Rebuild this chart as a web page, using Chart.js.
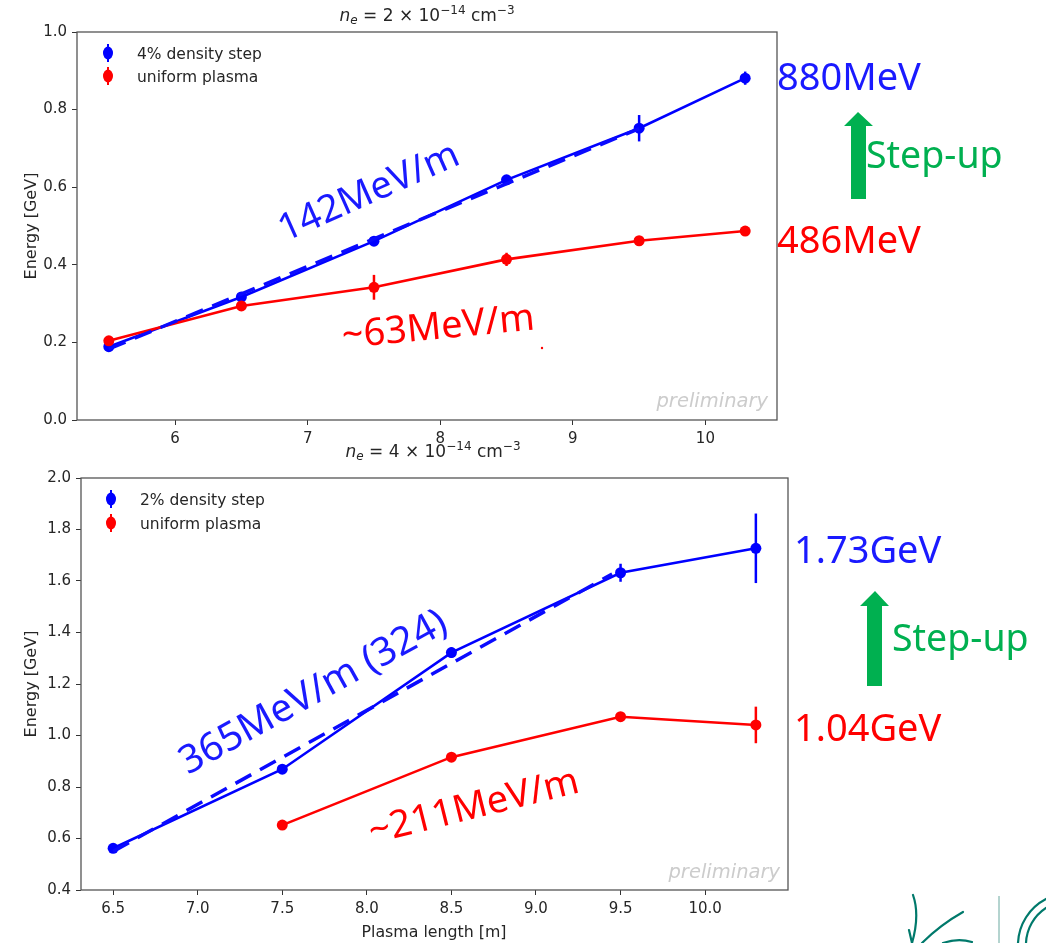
<!DOCTYPE html>
<html><head><meta charset="utf-8">
<script src="https://cdn.jsdelivr.net/npm/chart.js@4.4.1/dist/chart.umd.min.js"></script>
<style>
html,body{margin:0;padding:0;background:#fff;}
body{width:1046px;height:943px;position:relative;overflow:hidden;}
canvas{position:absolute;left:0;}
#c1{top:0;}
#c2{top:450px;}
#ov{position:absolute;left:0;top:0;pointer-events:none;}
</style></head><body>
<canvas id="c1" width="800" height="450"></canvas>
<canvas id="c2" width="800" height="493"></canvas>
<svg id="ov" width="1046" height="943" xmlns="http://www.w3.org/2000/svg">
  <!-- titles -->
  <text x="427" y="21" text-anchor="middle" font-family="DejaVu Sans" font-size="17" fill="#262626"><tspan font-style="italic">n</tspan><tspan font-style="italic" font-size="12" dy="3">e</tspan><tspan dy="-3"> = 2 × 10</tspan><tspan font-size="12" dy="-7">−14</tspan><tspan dy="7"> cm</tspan><tspan font-size="12" dy="-7">−3</tspan></text>
  <text x="433" y="457" text-anchor="middle" font-family="DejaVu Sans" font-size="17" fill="#262626"><tspan font-style="italic">n</tspan><tspan font-style="italic" font-size="12" dy="3">e</tspan><tspan dy="-3"> = 4 × 10</tspan><tspan font-size="12" dy="-7">−14</tspan><tspan dy="7"> cm</tspan><tspan font-size="12" dy="-7">−3</tspan></text>
  <!-- axis labels -->
  <text transform="translate(36,226) rotate(-90)" text-anchor="middle" font-family="DejaVu Sans" font-size="16" fill="#262626">Energy [GeV]</text>
  <text transform="translate(36,684) rotate(-90)" text-anchor="middle" font-family="DejaVu Sans" font-size="16" fill="#262626">Energy [GeV]</text>
  <text x="434" y="937" text-anchor="middle" font-family="DejaVu Sans" font-size="15.8" fill="#262626">Plasma length [m]</text>
  <!-- preliminary -->
  <text x="768" y="407" text-anchor="end" font-family="DejaVu Sans" font-style="italic" font-size="19.5" fill="#cccccc">preliminary</text>
  <text x="780" y="878" text-anchor="end" font-family="DejaVu Sans" font-style="italic" font-size="19.5" fill="#cccccc">preliminary</text>
  <!-- in-plot annotations -->
  <text transform="translate(285,242) rotate(-24)" font-family="Noto Sans" font-size="38" fill="#1a1aff">142MeV/m</text>
  <text transform="translate(343,348) rotate(-5.5)" font-family="Noto Sans" font-size="38" fill="#ff0000">~63MeV/m</text>
  <circle cx="542" cy="348" r="1.2" fill="#ff0000"/>
  <text transform="translate(188,775) rotate(-29)" font-family="Noto Sans" font-size="39" fill="#1a1aff">365MeV/m (324)</text>
  <text transform="translate(372,844) rotate(-14)" font-family="Noto Sans" font-size="38" fill="#ff0000">~211MeV/m</text>
  <!-- right side annotations -->
  <text x="777" y="90" font-family="Noto Sans" font-size="38" fill="#1a1aff">880MeV</text>
  <text x="777" y="253" font-family="Noto Sans" font-size="38" fill="#ff0000">486MeV</text>
  <polygon points="851,199 866,199 866,126 873,126 858,112 844,126 851,126" fill="#00b050"/>
  <text x="866" y="168" font-family="Noto Sans" font-size="37.5" fill="#00b050">Step-up</text>
  <text x="794" y="563" font-family="Noto Sans" font-size="38" fill="#1a1aff">1.73GeV</text>
  <text x="794" y="741" font-family="Noto Sans" font-size="38" fill="#ff0000">1.04GeV</text>
  <polygon points="867,686 882,686 882,606 889,606 875,591 860,606 867,606" fill="#00b050"/>
  <text x="892" y="651" font-family="Noto Sans" font-size="37.5" fill="#00b050">Step-up</text>
  <!-- logo fragment -->
  <g fill="none" stroke="#00796b" stroke-width="2.2" stroke-linecap="round">
    <path d="M913,895 Q920,915 912,943"/>
    <path d="M909,930 L912,943"/>
    <path d="M963,912 Q940,925 922,943"/>
    <path d="M943,943 Q958,938 972,942"/>
    <path d="M1018,943 A52,52 0 0 1 1046,899"/>
    <path d="M1026,943 A44,44 0 0 1 1046,908"/>
  </g>
  <line x1="999" y1="896" x2="999" y2="943" stroke="#6aa9a0" stroke-width="1"/>
</svg>
<script>
// ---------- data ----------
const topLengths = [5.5, 6.5, 7.5, 8.5, 9.5, 10.3];
const topStepEnergy = [0.189, 0.317, 0.461, 0.619, 0.752, 0.881];
const topStepErr = [0.008, 0.01, 0.008, 0.01, 0.034, 0.017];
const topUniformEnergy = [0.204, 0.294, 0.342, 0.414, 0.462, 0.487];
const topUniformErr = [0.008, 0.008, 0.032, 0.017, 0.008, 0.008];
const topFitX = [5.5, 9.5];
const topFitY = [0.183, 0.751];
const topXTicks = [6, 7, 8, 9, 10];
const topYTicks = [0.0, 0.2, 0.4, 0.6, 0.8, 1.0];

const botStepLengths = [6.5, 7.5, 8.5, 9.5, 10.3];
const botStepEnergy = [0.562, 0.869, 1.322, 1.632, 1.727];
const botStepErr = [0.012, 0.012, 0.02, 0.035, 0.135];
const botUniformLengths = [7.5, 8.5, 9.5, 10.3];
const botUniformEnergy = [0.652, 0.916, 1.073, 1.041];
const botUniformErr = [0.01, 0.012, 0.018, 0.071];
const botFitX = [6.5, 9.45];
const botFitY = [0.55, 1.627];
const botXTicks = [6.5, 7.0, 7.5, 8.0, 8.5, 9.0, 9.5, 10.0];
const botYTicks = [0.4, 0.6, 0.8, 1.0, 1.2, 1.4, 1.6, 1.8, 2.0];

const BLUE = '#0000ff', RED = '#ff0000';
function pts(xs, ys){ return xs.map((x,i)=>({x:x, y:ys[i]})); }

const extras = {
  id: 'extras',
  beforeDatasetsDraw(chart){
    const ctx = chart.ctx, xs = chart.scales.x, ys = chart.scales.y;
    chart.data.datasets.forEach(ds=>{
      if(!ds.errors) return;
      ctx.save();
      ctx.strokeStyle = ds.borderColor; ctx.lineWidth = 2.5;
      ds.data.forEach((p,i)=>{
        const e = ds.errors[i];
        const px = xs.getPixelForValue(p.x);
        ctx.beginPath();
        ctx.moveTo(px, ys.getPixelForValue(p.y - e));
        ctx.lineTo(px, ys.getPixelForValue(p.y + e));
        ctx.stroke();
      });
      ctx.restore();
    });
  },
  afterDraw(chart, args, opts){
    const ctx = chart.ctx, a = chart.chartArea;
    ctx.save();
    ctx.strokeStyle = '#555'; ctx.lineWidth = 1.3;
    ctx.strokeRect(a.left, a.top, a.right - a.left, a.bottom - a.top);
    // legend
    ctx.font = '15.5px "DejaVu Sans"';
    ctx.textBaseline = 'alphabetic';
    chart.data.datasets.forEach(ds=>{
      if(ds.legendRow === undefined) return;
      const mx = a.left + opts.mx, my = a.top + opts.my + ds.legendRow * opts.dy;
      ctx.strokeStyle = ds.borderColor; ctx.fillStyle = ds.borderColor; ctx.lineWidth = 2;
      ctx.beginPath(); ctx.moveTo(mx, my - 9); ctx.lineTo(mx, my + 9); ctx.stroke();
      ctx.beginPath(); ctx.ellipse(mx, my, 5, 6.5, 0, 0, Math.PI*2); ctx.fill();
      ctx.fillStyle = '#262626';
      ctx.fillText(ds.label, a.left + opts.tx, my + 5.5);
    });
    ctx.restore();
  }
};

function axis(min, max, ticks, fmt, size){
  return {
    type: 'linear', min: min, max: max,
    afterBuildTicks: s => { s.ticks = ticks.map(v=>({value:v})); },
    afterFit: size,
    grid: {drawOnChartArea:false, drawTicks:true, tickLength:5, color:'#333', lineWidth:1},
    border: {display:false},
    ticks: {font:{family:'DejaVu Sans', size:15}, color:'#262626', padding:5, autoSkip:false, maxRotation:0,
            callback: v => fmt(v)}
  };
}

function lineDs(label, xs, ys, errs, color, row){
  return {label:label, data:pts(xs, ys), errors:errs, borderColor:color, backgroundColor:color,
          pointBackgroundColor:color, pointBorderWidth:0, pointRadius:5.5, borderWidth:2.6,
          tension:0, showLine:true, legendRow:row};
}
function fitDs(xs, ys){
  return {label:'fit', data:pts(xs, ys), borderColor:'#0a0aff', borderWidth:3.5, borderDash:[18,10],
          pointRadius:0, tension:0, showLine:true};
}

function makeChart(id, datasets, xMin, xMax, xTicks, xFmt, yMin, yMax, yTicks, pad, yW, xH, leg){
  return new Chart(document.getElementById(id), {
    type: 'line',
    data: {datasets: datasets},
    options: {
      responsive:false, animation:false, devicePixelRatio:1,
      layout: {padding: pad},
      plugins: {legend:{display:false}, tooltip:{enabled:false}, extras: leg},
      scales: {
        x: axis(xMin, xMax, xTicks, xFmt, s=>{ s.height = xH; }),
        y: axis(yMin, yMax, yTicks, v=>v.toFixed(1), s=>{ s.width = yW; })
      }
    },
    plugins: [extras]
  });
}

makeChart('c1', [
    fitDs(topFitX, topFitY),
    lineDs('uniform plasma', topLengths, topUniformEnergy, topUniformErr, RED, 1),
    lineDs('4% density step', topLengths, topStepEnergy, topStepErr, BLUE, 0)
  ], 5.26, 10.54, topXTicks, v=>String(Math.round(v)), 0, 1, topYTicks,
  {left:0, top:32, right:23, bottom:0}, 77, 30, {mx:31, my:21, dy:23, tx:60});

makeChart('c2', [
    fitDs(botFitX, botFitY),
    lineDs('uniform plasma', botUniformLengths, botUniformEnergy, botUniformErr, RED, 1),
    lineDs('2% density step', botStepLengths, botStepEnergy, botStepErr, BLUE, 0)
  ], 6.31, 10.49, botXTicks, v=>v.toFixed(1), 0.4, 2.0, botYTicks,
  {left:0, top:28, right:12, bottom:0}, 81, 53, {mx:30, my:21, dy:24, tx:59});
</script>
</body></html>
